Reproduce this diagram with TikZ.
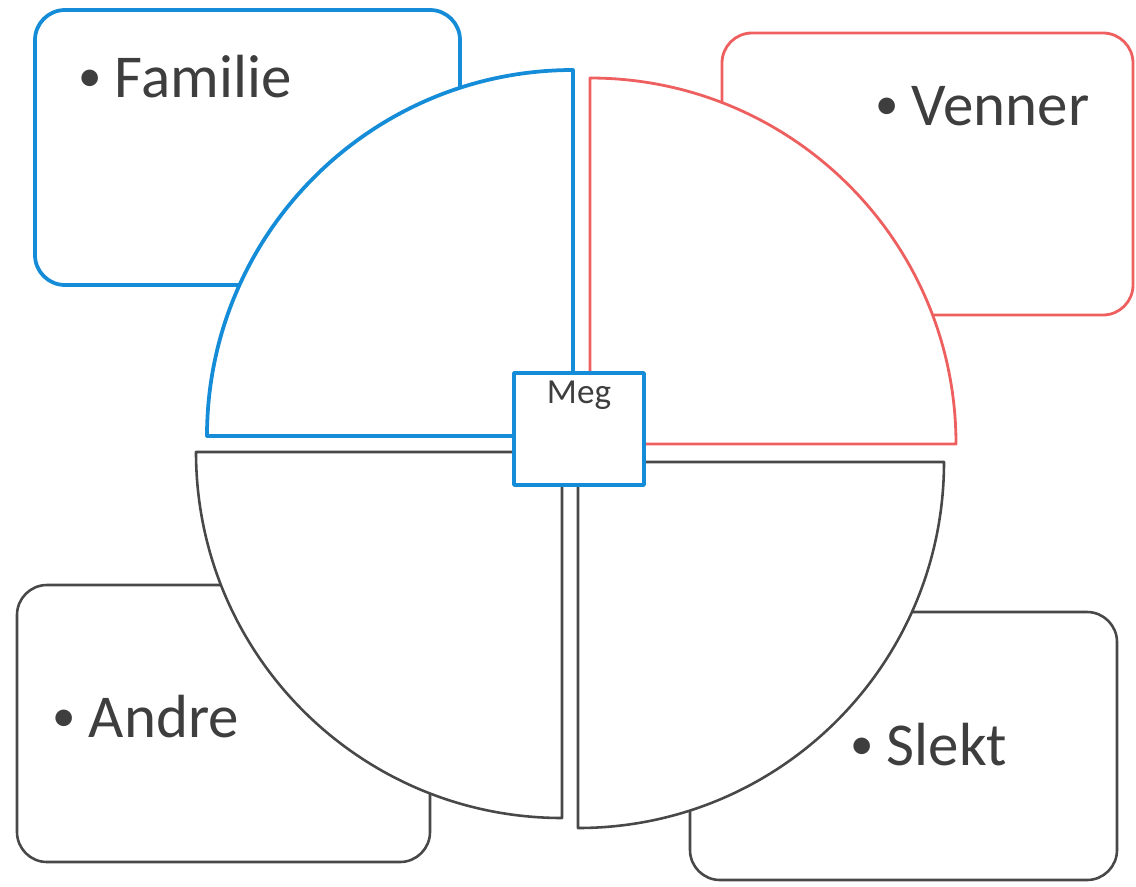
\documentclass[tikz,border=0pt]{standalone}
\usepackage{fontspec}
\setmainfont{Carlito}
\usetikzlibrary{positioning}
\definecolor{famblue}{RGB}{20,140,215}
\definecolor{venred}{RGB}{238,96,96}
\definecolor{restgray}{RGB}{72,72,72}
\definecolor{txtgray}{RGB}{62,62,62}
\newcommand{\dotbullet}{{\fontsize{40}{40}\selectfont\raisebox{0.12em}{\textbullet}}\hspace{0.22em}}
\tikzset{
  blueline/.style={draw=famblue,line width=3.2pt},
  redline/.style={draw=venred,line width=2.4pt},
  grayline/.style={draw=restgray,line width=2.2pt},
  areabox/.style={rounded corners=0.9cm},
  sector/.style={fill=white},
  bigtxt/.style={text=txtgray,inner sep=0pt,font=\fontsize{52}{60}\selectfont},
}
\begin{document}
\begin{tikzpicture}[x=0.03cm,y=-0.03cm,line cap=round,line join=round]
  \useasboundingbox (0,0) rectangle (1136,887);
  \def\R{366}

  % corners of the four quarters
  \coordinate (TL) at (573,436);
  \coordinate (TR) at (590,444);
  \coordinate (BL) at (562,452);
  \coordinate (BR) at (578,462);

  % Boxes behind the circle
  \draw[blueline,areabox] (35,10) rectangle (460,285);
  \draw[redline,areabox] (722,33) rectangle (1133,315);
  \draw[grayline,areabox] (17,585) rectangle (430,862);
  \draw[grayline,areabox] (690,612) rectangle (1117,880);

  % Quarters
  \draw[blueline,sector] (TL) -- ++(-\R,0) arc(180:270:\R) -- cycle;
  \draw[redline,sector] (TR) -- ++(0,-\R) arc(270:360:\R) -- cycle;
  \draw[grayline,sector] (BR) -- ++(\R,0) arc(0:90:\R) -- cycle;
  \draw[grayline,sector] (BL) -- ++(0,\R) arc(90:180:\R) -- cycle;

  % Centre
  \node[blueline,fill=white,minimum width=3.9cm,minimum height=3.36cm] (meg) at (579,429) {};
  \node[text=txtgray,font=\fontsize{30}{34}\selectfont,below=0.16cm of meg.north] (megtxt) {Meg};

  % Labels
  \node[bigtxt,anchor=base west] (familie) at (78,97) {\dotbullet Familie};
  \node[bigtxt,anchor=base west] (venner) at (875,125) {\dotbullet Venner};
  \node[bigtxt,anchor=base west] (andre) at (52,737) {\dotbullet Andre};
  \node[bigtxt,anchor=base west] (slekt) at (850,765) {\dotbullet Slekt};
\end{tikzpicture}
\end{document}
